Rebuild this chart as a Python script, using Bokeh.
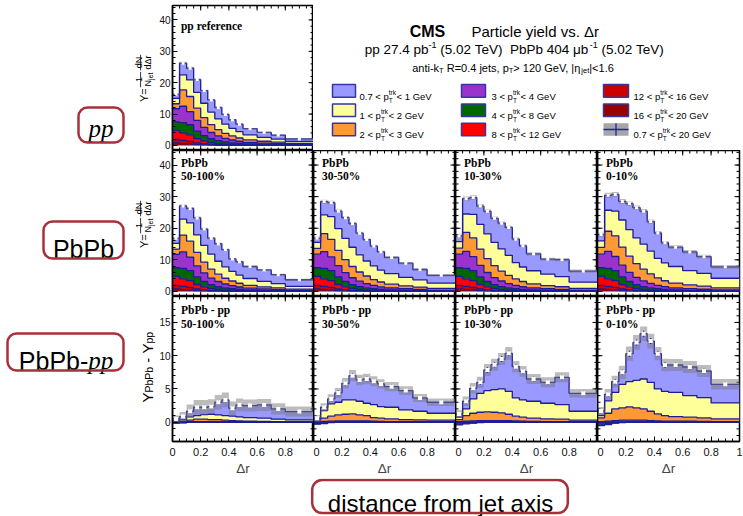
import math
import numpy as np
from bokeh.plotting import figure
from bokeh.layouts import row, column
from bokeh.models import (Range1d, FixedTicker, NumeralTickFormatter,
                          BoxAnnotation, ColumnDataSource)
from bokeh.core.properties import value, field
from bokeh.embed import file_html
from bokeh.resources import INLINE

# ------------------------------------------------------------------ data
dr_edges = [0.0, 0.05, 0.1, 0.15, 0.2, 0.25, 0.3, 0.35, 0.4, 0.45, 0.5,
            0.6, 0.7, 0.8, 1.0]

trk_pt_low = ["0.7", "1", "2", "3", "4", "8", "12", "16"]
trk_pt_high = ["1", "2", "3", "4", "8", "12", "16", "20"]
trk_colors = ["#9999ff", "#ffff99", "#ff9933", "#9933cc",
              "#006600", "#ff0000", "#cc0000", "#990000"]

centralities = ["50-100%", "30-50%", "10-30%", "0-10%"]

# pp reference, per track-pT bin
pp_07_1 = [1.3, 3.7, 3.7, 4.1, 4.05, 3.86, 3.65, 3.12, 2.75, 2.41, 2.0, 1.6, 1.26, 0.82]
pp_1_2 = [1.7, 4.8, 5.3, 5.0, 4.6, 4.0, 3.4, 2.9, 2.4, 2.0, 1.6, 1.25, 1.0, 0.62]
pp_2_3 = [1.6, 5.2, 4.8, 3.9, 3.1, 2.5, 2.0, 1.6, 1.3, 1.05, 0.8, 0.6, 0.47, 0.3]
pp_3_4 = [4.2, 5.2, 4.2, 3.4, 2.6, 2.0, 1.5, 1.15, 0.9, 0.7, 0.52, 0.4, 0.3, 0.2]
pp_4_8 = [2.7, 3.3, 3.2, 2.4, 1.7, 1.2, 0.9, 0.68, 0.52, 0.4, 0.3, 0.22, 0.17, 0.1]
pp_8_12 = [2.9, 2.4, 2.1, 1.4, 0.9, 0.6, 0.42, 0.3, 0.22, 0.16, 0.12, 0.09, 0.07, 0.04]
pp_12_16 = [1.1, 1.0, 0.8, 0.5, 0.35, 0.22, 0.15, 0.1, 0.07, 0.05, 0.04, 0.03, 0.02, 0.01]
pp_16_20 = [0.8, 0.6, 0.5, 0.3, 0.2, 0.12, 0.08, 0.05, 0.04, 0.03, 0.02, 0.01, 0.01, 0.01]
pp_total = [16.3, 26.2, 24.6, 21.0, 17.5, 14.5, 12.1, 9.9, 8.2, 6.8, 5.4, 4.2, 3.3, 2.1]
pp_err = [0.35, 0.45, 0.45, 0.4, 0.35, 0.3, 0.3, 0.25, 0.25, 0.2, 0.2, 0.2, 0.15, 0.15]

# PbPb, per centrality (the 4-20 GeV bins coincide with pp)
pbpb_50_100_07_1 = [1.6, 4.15, 4.55, 5.35, 5.15, 5.01, 5.55, 5.47, 3.95, 4.21, 3.8, 3.6, 2.81, 2.07]
pbpb_50_100_1_2 = [1.8, 5.05, 5.8, 5.55, 5.3, 4.8, 4.1, 3.6, 3.05, 2.6, 2.15, 1.73, 1.35, 0.92]
pbpb_50_100_2_3 = [1.67, 5.3, 5.02, 4.25, 3.45, 2.8, 2.3, 1.82, 1.48, 1.19, 0.9, 0.68, 0.54, 0.33]
pbpb_50_100_3_4 = [4.23, 5.25, 4.28, 3.5, 2.7, 2.1, 1.6, 1.23, 0.97, 0.76, 0.57, 0.44, 0.33, 0.22]
pbpb_50_100_total = [16.8, 27.05, 26.25, 23.25, 19.75, 16.85, 15.1, 13.25, 10.3, 9.4, 7.9, 6.8, 5.3, 3.7]
pbpb_50_100_err = [0.4, 0.5, 0.5, 0.45, 0.4, 0.4, 0.35, 0.35, 0.3, 0.3, 0.3, 0.3, 0.3, 0.3]

pbpb_30_50_07_1 = [1.4, 4.2, 4.45, 5.5, 6.55, 7.51, 6.85, 6.77, 6.25, 5.81, 5.1, 4.5, 3.26, 2.47]
pbpb_30_50_1_2 = [1.9, 5.95, 7.15, 6.9, 6.75, 6.1, 5.45, 4.75, 4.35, 3.75, 3.35, 2.7, 2.3, 1.67]
pbpb_30_50_2_3 = [1.82, 5.68, 5.55, 4.8, 4.1, 3.55, 2.9, 2.42, 1.85, 1.53, 1.2, 0.9, 0.74, 0.54]
pbpb_30_50_3_4 = [4.28, 5.32, 4.35, 3.6, 2.8, 2.2, 1.7, 1.33, 1.05, 0.82, 0.62, 0.5, 0.38, 0.26]
pbpb_30_50_total = [16.9, 28.45, 28.1, 25.4, 23.35, 21.5, 18.45, 16.4, 14.35, 12.55, 10.75, 8.95, 6.95, 5.1]
pbpb_30_50_err = [0.5, 0.6, 0.6, 0.55, 0.5, 0.5, 0.45, 0.45, 0.4, 0.4, 0.4, 0.4, 0.4, 0.4]

pbpb_10_30_07_1 = [1.8, 4.85, 5.3, 5.75, 7.15, 7.61, 8.15, 8.82, 7.45, 6.71, 5.35, 4.75, 5.36, 3.52]
pbpb_10_30_1_2 = [2.05, 5.8, 7.45, 7.85, 7.8, 7.4, 7.0, 6.35, 5.15, 4.6, 4.15, 3.6, 3.2, 1.97]
pbpb_10_30_2_3 = [1.9, 6.05, 5.95, 5.15, 4.4, 3.75, 3.15, 2.58, 2.02, 1.65, 1.28, 1.0, 0.82, 0.52]
pbpb_10_30_3_4 = [4.3, 5.35, 4.4, 3.65, 2.85, 2.25, 1.75, 1.37, 1.08, 0.85, 0.64, 0.5, 0.4, 0.28]
pbpb_10_30_total = [17.55, 29.35, 29.7, 27.0, 25.35, 23.15, 21.6, 20.25, 16.55, 14.45, 11.9, 10.2, 10.05, 6.45]
pbpb_10_30_err = [0.55, 0.7, 0.7, 0.65, 0.6, 0.6, 0.55, 0.55, 0.5, 0.5, 0.5, 0.5, 0.5, 0.5]

pbpb_0_10_07_1 = [2.0, 4.7, 5.3, 5.9, 8.25, 9.56, 10.45, 9.32, 8.05, 6.36, 6.1, 5.9, 5.26, 3.62]
pbpb_0_10_1_2 = [2.05, 6.65, 7.8, 8.55, 8.4, 8.15, 7.9, 7.25, 6.15, 5.65, 5.25, 4.5, 4.05, 3.02]
pbpb_0_10_2_3 = [2.15, 6.4, 6.55, 5.75, 5.1, 4.35, 3.7, 3.0, 2.35, 1.88, 1.5, 1.2, 0.99, 0.7]
pbpb_0_10_3_4 = [4.3, 5.35, 4.45, 3.7, 2.9, 2.3, 1.8, 1.4, 1.1, 0.87, 0.67, 0.55, 0.43, 0.3]
pbpb_0_10_total = [18.0, 30.4, 30.7, 28.5, 27.8, 26.5, 25.4, 22.1, 18.5, 15.4, 14.0, 12.5, 11.0, 7.8]
pbpb_0_10_err = [0.6, 0.8, 0.8, 0.75, 0.7, 0.7, 0.65, 0.65, 0.6, 0.6, 0.6, 0.6, 0.6, 0.6]

# PbPb - pp, per centrality
diff_above_12 = [0.0, 0.0, 0.0, 0.0, 0.0, 0.0, 0.0, 0.0, 0.0, 0.0, 0.0, 0.0, 0.0, 0.0]

diff_50_100_07_1 = [0.3, 0.45, 0.85, 1.25, 1.1, 1.15, 1.9, 2.35, 1.2, 1.8, 1.8, 2.0, 1.55, 1.25]
diff_50_100_1_2 = [0.1, 0.25, 0.5, 0.55, 0.7, 0.8, 0.7, 0.7, 0.65, 0.6, 0.55, 0.48, 0.35, 0.3]
diff_50_100_2_3 = [0.07, 0.1, 0.22, 0.35, 0.35, 0.3, 0.3, 0.22, 0.18, 0.14, 0.1, 0.08, 0.07, 0.03]
diff_50_100_3_4 = [0.03, 0.05, 0.08, 0.1, 0.1, 0.1, 0.1, 0.08, 0.07, 0.06, 0.05, 0.04, 0.03, 0.02]
diff_50_100_4_8 = [-0.05, -0.05, 0.0, 0.0, 0.0, 0.0, 0.0, 0.0, 0.0, 0.0, 0.0, 0.0, 0.0, 0.0]
diff_50_100_8_12 = [-0.1, -0.05, 0.0, 0.0, 0.0, 0.0, 0.0, 0.0, 0.0, 0.0, 0.0, 0.0, 0.0, 0.0]
diff_50_100_total = [0.5, 0.85, 1.65, 2.25, 2.25, 2.35, 3.0, 3.35, 2.1, 2.6, 2.5, 2.6, 2.0, 1.6]
diff_50_100_sys = [0.5, 0.7, 1.0, 1.1, 1.1, 1.1, 1.1, 1.1, 1.0, 0.95, 0.9, 0.9, 0.85, 0.75]
diff_50_100_stat = [0.2, 0.25, 0.3, 0.3, 0.3, 0.3, 0.3, 0.3, 0.3, 0.3, 0.25, 0.25, 0.25, 0.2]

diff_30_50_07_1 = [0.1, 0.5, 0.75, 1.4, 2.5, 3.65, 3.2, 3.65, 3.5, 3.4, 3.1, 2.9, 2.0, 1.65]
diff_30_50_1_2 = [0.2, 1.15, 1.85, 1.9, 2.15, 2.1, 2.05, 1.85, 1.95, 1.75, 1.75, 1.45, 1.3, 1.05]
diff_30_50_2_3 = [0.22, 0.48, 0.75, 0.9, 1.0, 1.05, 0.9, 0.82, 0.55, 0.48, 0.4, 0.3, 0.27, 0.24]
diff_30_50_3_4 = [0.08, 0.12, 0.15, 0.2, 0.2, 0.2, 0.2, 0.18, 0.15, 0.12, 0.1, 0.1, 0.08, 0.06]
diff_30_50_4_8 = [-0.1, -0.1, 0.0, 0.0, 0.0, 0.0, 0.0, 0.0, 0.0, 0.0, 0.0, 0.0, 0.0, 0.0]
diff_30_50_8_12 = [-0.2, -0.1, -0.05, 0.0, 0.0, 0.0, 0.0, 0.0, 0.0, 0.0, 0.0, 0.0, 0.0, 0.0]
diff_30_50_total = [0.6, 2.25, 3.5, 4.4, 5.85, 7.0, 6.35, 6.5, 6.15, 5.75, 5.35, 4.75, 3.65, 3.0]
diff_30_50_sys = [0.5, 0.6, 0.7, 0.75, 0.8, 0.85, 0.8, 0.8, 0.75, 0.7, 0.7, 0.65, 0.6, 0.55]
diff_30_50_stat = [0.25, 0.3, 0.3, 0.35, 0.35, 0.35, 0.35, 0.35, 0.3, 0.3, 0.3, 0.3, 0.3, 0.25]

diff_10_30_07_1 = [0.5, 1.15, 1.6, 1.65, 3.1, 3.75, 4.5, 5.7, 4.7, 4.3, 3.35, 3.15, 4.1, 2.7]
diff_10_30_1_2 = [0.35, 1.0, 2.15, 2.85, 3.2, 3.4, 3.6, 3.45, 2.75, 2.6, 2.55, 2.35, 2.2, 1.35]
diff_10_30_2_3 = [0.3, 0.85, 1.15, 1.25, 1.3, 1.25, 1.15, 0.98, 0.72, 0.6, 0.48, 0.4, 0.35, 0.22]
diff_10_30_3_4 = [0.1, 0.15, 0.2, 0.25, 0.25, 0.25, 0.25, 0.22, 0.18, 0.15, 0.12, 0.1, 0.1, 0.08]
diff_10_30_4_8 = [-0.15, -0.1, -0.05, 0.0, 0.0, 0.0, 0.0, 0.0, 0.0, 0.0, 0.0, 0.0, 0.0, 0.0]
diff_10_30_8_12 = [-0.25, -0.15, -0.1, -0.05, 0.0, 0.0, 0.0, 0.0, 0.0, 0.0, 0.0, 0.0, 0.0, 0.0]
diff_10_30_total = [1.25, 3.15, 5.1, 6.0, 7.85, 8.65, 9.5, 10.35, 8.35, 7.65, 6.5, 6.0, 6.75, 4.35]
diff_10_30_sys = [0.55, 0.7, 0.8, 0.85, 0.9, 0.9, 0.9, 0.95, 0.85, 0.8, 0.75, 0.75, 0.75, 0.65]
diff_10_30_stat = [0.3, 0.35, 0.35, 0.4, 0.4, 0.4, 0.4, 0.4, 0.35, 0.35, 0.35, 0.35, 0.35, 0.3]

diff_0_10_07_1 = [0.7, 1.0, 1.6, 1.8, 4.2, 5.7, 6.8, 6.2, 5.3, 3.95, 4.1, 4.3, 4.0, 2.8]
diff_0_10_1_2 = [0.35, 1.85, 2.5, 3.55, 3.8, 4.15, 4.5, 4.35, 3.75, 3.65, 3.65, 3.25, 3.05, 2.4]
diff_0_10_2_3 = [0.55, 1.2, 1.75, 1.85, 2.0, 1.85, 1.7, 1.4, 1.05, 0.83, 0.7, 0.6, 0.52, 0.4]
diff_0_10_3_4 = [0.1, 0.15, 0.25, 0.3, 0.3, 0.3, 0.3, 0.25, 0.2, 0.17, 0.15, 0.15, 0.13, 0.1]
diff_0_10_4_8 = [-0.2, -0.15, -0.05, 0.0, 0.0, 0.0, 0.0, 0.0, 0.0, 0.0, 0.0, 0.0, 0.0, 0.0]
diff_0_10_8_12 = [-0.3, -0.2, -0.1, -0.05, 0.0, 0.0, 0.0, 0.0, 0.0, 0.0, 0.0, 0.0, 0.0, 0.0]
diff_0_10_total = [1.7, 4.2, 6.1, 7.5, 10.3, 12.0, 13.3, 12.2, 10.3, 8.6, 8.6, 8.3, 7.7, 5.7]
diff_0_10_sys = [0.6, 0.8, 0.9, 1.0, 1.1, 1.1, 1.1, 1.1, 1.0, 0.95, 0.9, 0.9, 0.9, 0.8]
diff_0_10_stat = [0.3, 0.35, 0.4, 0.4, 0.45, 0.45, 0.45, 0.45, 0.4, 0.4, 0.35, 0.35, 0.35, 0.3]

# ------------------------------------------------------------------ style
SANS = "Liberation Sans"
SERIF = "Liberation Serif"
OUTLINE = "#1c1c96"
BOX_RED = "#a8303a"
BAND = "#7a7a7a"
NBSP = "\u00a0"

HELV = {' ': 278, '!': 278, '%': 889, '(': 333, ')': 333, ',': 278, '-': 333,
        '.': 278, '/': 278, '<': 584, '=': 584, '>': 584, '|': 260,
        'A': 667, 'B': 667, 'C': 722, 'D': 722, 'E': 667, 'F': 611, 'G': 778,
        'H': 722, 'I': 278, 'J': 500, 'K': 667, 'L': 556, 'M': 833, 'N': 722,
        'O': 778, 'P': 667, 'Q': 778, 'R': 722, 'S': 667, 'T': 611, 'U': 722,
        'V': 667, 'W': 944, 'X': 667, 'Y': 667, 'Z': 611,
        'a': 556, 'b': 556, 'c': 500, 'd': 556, 'e': 556, 'f': 278, 'g': 556,
        'h': 556, 'i': 222, 'j': 222, 'k': 500, 'l': 222, 'm': 833, 'n': 556,
        'o': 556, 'p': 556, 'q': 556, 'r': 333, 's': 500, 't': 278, 'u': 556,
        'v': 500, 'w': 722, 'x': 500, 'y': 500, 'z': 500,
        'Δ': 668, 'η': 556, 'μ': 576}


def text_width(s, size):
    return sum(HELV.get(ch, 556) for ch in s) * size / 1000.0


def pieces_width(pieces):
    w = 0.0
    for pc in pieces:
        if pc[0] == "stack":
            w += max(text_width(pc[1], pc[3]), text_width(pc[2], pc[3])) + 0.5
        else:
            w += text_width(pc[0], pc[1])
    return w


def place_pieces(p, x0, y0, pieces, height, font=SANS, angle=0.0,
                 style="normal"):
    """Lay out text runs (with sub/superscripts) starting at screen (x0, y0)."""
    xs, ys, ts, fs = [], [], [], []

    def add(t, size, s, dy):
        if angle == 0.0:
            sx, sy = x0 + s, y0 + dy
        else:
            sx, sy = x0 + dy, y0 - s
        xs.append(sx)
        ys.append(height - sy)
        ts.append(t.replace(" ", NBSP))
        fs.append("%.1fpx" % size)

    s = 0.0
    for pc in pieces:
        if pc[0] == "stack":
            _, sup, sub, size, dsup, dsub = pc
            add(sup, size, s, dsup)
            add(sub, size, s, dsub)
            s += max(text_width(sup, size), text_width(sub, size)) + 0.5
        else:
            t, size, dy = pc
            add(t, size, s, dy)
            s += text_width(t, size)
    src = ColumnDataSource(dict(x=xs, y=ys, t=ts, fs=fs))
    p.text(x="x", y="y", text="t", source=src, text_font=value(font),
           text_font_size=field("fs"), text_font_style=style, angle=angle,
           text_align="left", text_baseline="alphabetic", text_color="black")
    return s


def step_path(vals):
    e = np.asarray(dr_edges, dtype=float)
    xs = np.repeat(e, 2)[1:-1]
    ys = np.repeat(np.asarray(vals, dtype=float), 2)
    return xs, ys


def draw_stack(p, layers):
    """Stack the track-pT layers, highest pT at the bottom."""
    n = len(dr_edges) - 1
    pos = np.zeros(n)
    neg = np.zeros(n)
    edges_top = []
    for vals, col in zip(reversed(layers), reversed(trk_colors)):
        v = np.asarray(vals, dtype=float)
        lo = np.where(v >= 0, pos, neg + v)
        hi = np.where(v >= 0, pos + v, neg)
        xh, yh = step_path(hi)
        xl, yl = step_path(lo)
        p.patch(np.concatenate([xh, xl[::-1]]), np.concatenate([yh, yl[::-1]]),
                fill_color=col, line_color=None)
        edges_top.append(np.where(v >= 0, hi, lo))
        pos = np.where(v >= 0, pos + v, pos)
        neg = np.where(v < 0, neg + v, neg)
    for t in edges_top:
        xs, ys = step_path(t)
        p.line(xs, ys, line_color=OUTLINE, line_width=1.3)


def draw_total(p, total, err, stat=None, size=3.5):
    t = np.asarray(total, dtype=float)
    e = np.asarray(err, dtype=float)
    xu, yu = step_path(t + e)
    xl, yl = step_path(t - e)
    p.patch(np.concatenate([xu, xl[::-1]]), np.concatenate([yu, yl[::-1]]),
            fill_color=BAND, fill_alpha=0.5, line_color=None)
    edges = np.asarray(dr_edges, dtype=float)
    c = 0.5 * (edges[:-1] + edges[1:])
    if stat is not None:
        s = np.asarray(stat, dtype=float)
        p.segment(x0=c, y0=t - s, x1=c, y1=t + s, line_color="#1515c8",
                  line_width=1.3)
    p.scatter(c, t, marker="square", size=size, fill_color="white",
              line_color=None)


X_MAJOR = [0, 0.2, 0.4, 0.6, 0.8]
X_MAJOR_LAST = [0, 0.2, 0.4, 0.6, 0.8, 1.0]
X_MINOR = [k * 0.05 for k in range(21)]
MAJOR_LEN, MINOR_LEN = 5, 3


def frame_ticks(p, fw, fh, yr, y_major, y_minor, sides):
    """Inward tick marks on frame sides that carry no labelled axis."""
    ux = 1.0 / fw
    uy = (yr[1] - yr[0]) / fh
    x0s, y0s, x1s, y1s = [], [], [], []
    xt = [(t, MAJOR_LEN) for t in X_MAJOR_LAST] + [(t, MINOR_LEN) for t in X_MINOR]
    yt = [(t, MAJOR_LEN) for t in y_major] + [(t, MINOR_LEN) for t in y_minor]
    for side in sides:
        if side in ("bottom", "top"):
            base = yr[0] if side == "bottom" else yr[1]
            sgn = 1 if side == "bottom" else -1
            for t, L in xt:
                x0s.append(t); x1s.append(t)
                y0s.append(base); y1s.append(base + sgn * L * uy)
        else:
            base = 0.0 if side == "left" else 1.0
            sgn = 1 if side == "left" else -1
            for t, L in yt:
                if yr[0] < t < yr[1]:
                    y0s.append(t); y1s.append(t)
                    x0s.append(base); x1s.append(base + sgn * L * ux)
    p.segment(x0=x0s, y0=y0s, x1=x1s, y1=y1s, line_color="black",
              line_width=1)


def make_panel(width, height, yr, y_ticks, y_minor, left=0, right=0, top=0,
               bottom=0, y_labels=False, x_labels=False, x_ticks=X_MAJOR):
    p = figure(width=width, height=height, x_range=Range1d(0, 1),
               y_range=Range1d(*yr), output_backend="svg",
               toolbar_location=None, min_border=0, min_border_left=left,
               min_border_right=right, min_border_top=top,
               min_border_bottom=bottom)
    p.grid.visible = False
    p.outline_line_color = "black"
    p.outline_line_width = 1.5
    p.background_fill_color = "white"
    p.border_fill_color = "white"
    xa, ya = p.xaxis[0], p.yaxis[0]
    for ax in (xa, ya):
        ax.axis_line_color = "black"
        ax.axis_line_width = 1.5
        ax.major_tick_in = MAJOR_LEN
        ax.major_tick_out = 0
        ax.minor_tick_in = MINOR_LEN
        ax.minor_tick_out = 0
        ax.major_tick_line_color = "black"
        ax.minor_tick_line_color = "black"
        ax.major_label_text_font = SANS
        ax.major_label_text_color = "#111111"
    sides = ["top", "right"]
    if y_labels:
        ya.ticker = FixedTicker(ticks=y_ticks, minor_ticks=y_minor)
        ya.major_label_text_font_size = "10px"
        ya.major_label_standoff = 2
    else:
        ya.ticker = FixedTicker(ticks=[], minor_ticks=[])
        sides.append("left")
    if x_labels:
        xa.ticker = FixedTicker(ticks=x_ticks, minor_ticks=X_MINOR)
        xa.formatter = NumeralTickFormatter(format="0.[0]")
        xa.major_label_text_font_size = "11px"
        xa.major_label_standoff = 6
        xa.axis_label = "Δr"
        xa.axis_label_text_font = SANS
        xa.axis_label_text_font_style = "normal"
        xa.axis_label_text_font_size = "13.5px"
        xa.axis_label_standoff = 2
    else:
        xa.ticker = FixedTicker(ticks=[], minor_ticks=[])
        sides.append("bottom")
    frame_ticks(p, width - left - right, height - top - bottom, yr,
                y_ticks, y_minor, sides)
    return p


def panel_label(p, lines, tops):
    p.text(x=[0.06] * len(lines), y=tops, text=lines, text_font=value(SERIF),
           text_font_style="bold", text_font_size="11.5px",
           text_baseline="top", text_align="left", text_color="black")


def blank(width, height, xr, yr):
    p = figure(width=width, height=height, x_range=Range1d(*xr),
               y_range=Range1d(*yr), output_backend="svg",
               toolbar_location=None, min_border=0, x_axis_location=None,
               y_axis_location=None)
    p.grid.visible = False
    p.outline_line_color = None
    p.background_fill_color = "white"
    p.border_fill_color = "white"
    return p


# ------------------------------------------------------------------ panels
YIELD_RANGE = (-1.6, 44.6)
YIELD_TICKS = [0, 10, 20, 30, 40]
YIELD_MINOR = list(range(0, 46, 2))
DIFF_RANGE = (-2.9, 18.9)
DIFF_TICKS = [0, 5, 10, 15]
DIFF_MINOR = list(range(-2, 19))

col_widths = [157, 142, 142, 146]
col_left = [15, 0, 0, 0]
col_right = [0, 0, 0, 4]

# pp reference
pp_fig = make_panel(157, 150, YIELD_RANGE, YIELD_TICKS, YIELD_MINOR,
                    left=15, top=5, y_labels=True)
draw_stack(pp_fig, [pp_07_1, pp_1_2, pp_2_3, pp_3_4, pp_4_8, pp_8_12,
                    pp_12_16, pp_16_20])
draw_total(pp_fig, pp_total, pp_err, size=3)
panel_label(pp_fig, ["pp reference"], [40.1])

pbpb_sets = [
    ([pbpb_50_100_07_1, pbpb_50_100_1_2, pbpb_50_100_2_3, pbpb_50_100_3_4],
     pbpb_50_100_total, pbpb_50_100_err),
    ([pbpb_30_50_07_1, pbpb_30_50_1_2, pbpb_30_50_2_3, pbpb_30_50_3_4],
     pbpb_30_50_total, pbpb_30_50_err),
    ([pbpb_10_30_07_1, pbpb_10_30_1_2, pbpb_10_30_2_3, pbpb_10_30_3_4],
     pbpb_10_30_total, pbpb_10_30_err),
    ([pbpb_0_10_07_1, pbpb_0_10_1_2, pbpb_0_10_2_3, pbpb_0_10_3_4],
     pbpb_0_10_total, pbpb_0_10_err),
]

diff_sets = [
    ([diff_50_100_07_1, diff_50_100_1_2, diff_50_100_2_3, diff_50_100_3_4,
      diff_50_100_4_8, diff_50_100_8_12, diff_above_12, diff_above_12],
     diff_50_100_total, diff_50_100_sys, diff_50_100_stat),
    ([diff_30_50_07_1, diff_30_50_1_2, diff_30_50_2_3, diff_30_50_3_4,
      diff_30_50_4_8, diff_30_50_8_12, diff_above_12, diff_above_12],
     diff_30_50_total, diff_30_50_sys, diff_30_50_stat),
    ([diff_10_30_07_1, diff_10_30_1_2, diff_10_30_2_3, diff_10_30_3_4,
      diff_10_30_4_8, diff_10_30_8_12, diff_above_12, diff_above_12],
     diff_10_30_total, diff_10_30_sys, diff_10_30_stat),
    ([diff_0_10_07_1, diff_0_10_1_2, diff_0_10_2_3, diff_0_10_3_4,
      diff_0_10_4_8, diff_0_10_8_12, diff_above_12, diff_above_12],
     diff_0_10_total, diff_0_10_sys, diff_0_10_stat),
]

mid_figs, bot_figs = [], []
for i, cent in enumerate(centralities):
    soft, total, err = pbpb_sets[i]
    m = make_panel(col_widths[i], 146, YIELD_RANGE, YIELD_TICKS, YIELD_MINOR,
                   left=col_left[i], right=col_right[i], y_labels=(i == 0))
    draw_stack(m, soft + [pp_4_8, pp_8_12, pp_12_16, pp_16_20])
    draw_total(m, total, err, size=3)
    panel_label(m, ["PbPb", cent], [42.7, 38.3])
    mid_figs.append(m)

    layers, dtot, dsys, dstat = diff_sets[i]
    b = make_panel(col_widths[i], 182, DIFF_RANGE, DIFF_TICKS, DIFF_MINOR,
                   left=col_left[i], right=col_right[i], bottom=36,
                   y_labels=(i == 0), x_labels=True,
                   x_ticks=X_MAJOR_LAST if i == 3 else X_MAJOR)
    draw_stack(b, layers)
    draw_total(b, dtot, dsys, stat=dstat, size=4)
    panel_label(b, ["PbPb - pp", cent], [17.7, 15.6])
    bot_figs.append(b)

# ------------------------------------------------------------------ header
HH = 150
header = blank(430, HH, (313, 743), (0, HH))
header.text(x=[427], y=[HH - 26.5], text=["CMS"], text_font=value(SANS),
            text_font_style="bold", text_font_size="16px",
            text_align="center", text_baseline="alphabetic", text_color="black")
header.text(x=[471], y=[HH - 26.5], text=["Particle yield vs. Δr"],
            text_font=value(SANS), text_font_size="15px", text_align="left",
            text_baseline="alphabetic", text_color="black")

lumi = [("pp 27.4 pb", 13.5, 0), ("-1", 9.0, -5.5),
        (" (5.02 TeV)  PbPb 404 μb", 13.5, 0), ("-1", 9.0, -5.5),
        (" (5.02 TeV)", 13.5, 0)]
place_pieces(header, 514.5 - pieces_width(lumi) / 2, 46, lumi, HH)

cuts = [("anti-k", 11, 0), ("T", 7.5, 2.5), (" R=0.4 jets, p", 11, 0),
        ("T", 7.5, 2.5), ("> 120 GeV, |η", 11, 0), ("jet", 7.5, 2.5),
        ("|<1.6", 11, 0)]
place_pieces(header, 512.5 - pieces_width(cuts) / 2, 65, cuts, HH)

legend_cols = [(332, 355, 359), (461, 485, 491), (603, 628, 633)]
legend_rows = [88.3, 108.3, 128.3]
entries = list(zip(trk_pt_low, trk_pt_high, trk_colors)) + [("0.7", "20", None)]
for k, (lo, hi, col) in enumerate(entries):
    x_l, x_r, x_t = legend_cols[k // 3]
    yc = legend_rows[k % 3]
    if col is not None:
        header.quad(left=[x_l], right=[x_r], top=[HH - (yc - 6.5)],
                    bottom=[HH - (yc + 6.5)], fill_color=col,
                    line_color="#3535a5", line_width=1.5)
    else:
        header.quad(left=[x_l], right=[x_r], top=[HH - (yc - 6.5)],
                    bottom=[HH - (yc + 6.5)], fill_color="#a6a6a6",
                    line_color=None)
        header.segment(x0=[x_l], y0=[HH - yc], x1=[x_r], y1=[HH - yc],
                       line_color="#2020c0", line_width=1.3)
        header.segment(x0=[(x_l + x_r) / 2], y0=[HH - (yc - 6.5)],
                       x1=[(x_l + x_r) / 2], y1=[HH - (yc + 6.5)],
                       line_color="#2020c0", line_width=1.3)
    label = [(lo + " < p", 9.5, 0), ("stack", "trk", "T", 6.5, -4.0, 4.3),
             ("< " + hi + " GeV", 9.5, 0)]
    place_pieces(header, x_t, yc + 5.5, label, HH)

# ------------------------------------------------------------------ left side
LH = 478
left = blank(156, LH, (0, 156), (0, LH))
for (l, r, t, b) in [(78, 123, 107, 142), (43, 123, 221, 258),
                     (7, 123, 333, 370)]:
    left.add_layout(BoxAnnotation(left=l, right=r, top=LH - t, bottom=LH - b,
                                  fill_color=None, line_color=BOX_RED,
                                  line_alpha=1.0, line_width=2.5,
                                  border_radius=9))
left.text(x=[100.5], y=[LH - 128], text=["pp"], text_font=value(SERIF),
          text_font_style="italic", text_font_size="25px",
          text_align="center", text_baseline="alphabetic", text_color="black")
left.text(x=[83], y=[LH - 248.3], text=["PbPb"], text_font=value(SANS),
          text_font_size="25px", text_align="center",
          text_baseline="alphabetic", text_color="black")
left.text(x=[18.3], y=[LH - 360], text=["PbPb-"], text_font=value(SANS),
          text_font_size="25px", text_align="left",
          text_baseline="alphabetic", text_color="black")
left.text(x=[18.3 + text_width("PbPb-", 25)], y=[LH - 360], text=["pp"],
          text_font=value(SERIF), text_font_style="italic",
          text_font_size="25px", text_align="left",
          text_baseline="alphabetic", text_color="black")


def yield_title(p, y_start):
    """Rotated Y = 1/N_jet dN/dΔr, reading upward from screen y_start."""
    rot = math.pi / 2
    f_main, f_fr, f_sub = 11, 9, 7
    s = place_pieces(p, 143.0, y_start, [("Y=", f_main, 0)], LH, angle=rot)
    s += 1.0
    for num, den in ([("1", f_fr, 0)], [("N", f_fr, 0), ("jet", f_sub, 2.0)]), \
                    ([("dN", f_fr, 0)], [("dΔr", f_fr, 0)]):
        wn, wd = pieces_width(num), pieces_width(den)
        wf = max(wn, wd) + 1.5
        y0 = y_start - s
        place_pieces(p, 138.0, y0 - (wf - wn) / 2, num, LH, angle=rot)
        place_pieces(p, 147.5, y0 - (wf - wd) / 2, den, LH, angle=rot)
        p.segment(x0=[140.1], y0=[LH - y0], x1=[140.1], y1=[LH - (y0 - wf)],
                  line_color="black", line_width=0.8)
        s += wf + 1.5


yield_title(left, 101.5)
yield_title(left, 247.5)
place_pieces(left, 146.5, 402, [("Y", 15, 0), ("PbPb", 10.5, 2.3),
                                (" - Y", 15, 0), ("pp", 10.5, 2.3)],
             LH, angle=math.pi / 2)

# ------------------------------------------------------------------ footer
FH = 38
footer = blank(743, FH, (0, 743), (0, FH))
footer.add_layout(BoxAnnotation(left=311.7, right=567.3, top=FH - 1.5,
                                bottom=FH - 34.5, fill_color=None,
                                line_color=BOX_RED, line_alpha=1.0,
                                line_width=2.5, border_radius=10))
footer.text(x=[440], y=[FH - 25], text=["distance from jet axis"],
            text_font=value(SANS), text_font_size="24px", text_align="center",
            text_baseline="alphabetic", text_color="black")

# ------------------------------------------------------------------ layout
grid = column(row(pp_fig, header), row(*mid_figs), row(*bot_figs))
layout = column(row(left, grid), footer)

open("out.html", "w").write(file_html(layout, INLINE))
